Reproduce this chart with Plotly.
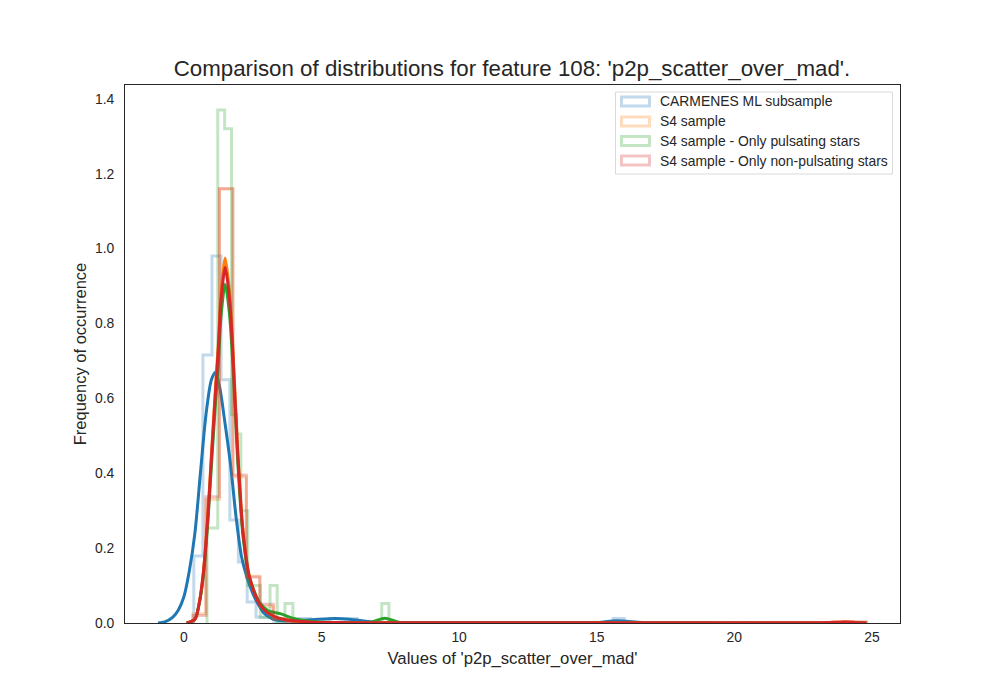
import plotly.graph_objects as go

names = ["CARMENES ML subsample", "S4 sample", "S4 sample - Only pulsating stars", "S4 sample - Only non-pulsating stars"]
colors = ["#1f77b4", "#ff7f0e", "#2ca02c", "#d62728"]
hist_rgba = ["rgba(31,119,180,0.28)", "rgba(255,127,14,0.28)", "rgba(44,160,44,0.28)", "rgba(214,39,40,0.28)"]

# histogram bin edges and heights
blue_edges = [0.36, 0.69, 1.02, 1.35, 1.67, 1.98, 2.3, 2.62, 2.95, 3.27, 4.2, 4.6, 5.3, 6.3, 15.6, 16.0]
blue_heights = [0.179, 0.716, 0.98, 0.65, 0.275, 0.163, 0.056, 0.016, 0.016, 0.0, 0.012, 0.0, 0.012, 0.0, 0.012]
orange_edges = [0.33, 0.8, 1.29, 1.78, 2.27, 2.76, 3.25, 3.74, 24.0, 24.8]
orange_heights = [0.025, 0.33, 1.16, 0.39, 0.125, 0.045, 0.012, 0.0, 0.003]
green_edges = [0.84, 1.23, 1.48, 1.73, 1.92, 2.07, 2.32, 2.78, 3.13, 3.39, 3.67, 3.96, 7.19, 7.45]
green_heights = [0.254, 1.37, 1.32, 0.556, 0.505, 0.3, 0.1, 0.015, 0.1, 0.0, 0.052, 0.0, 0.052]
red_edges = [0.33, 0.8, 1.29, 1.78, 2.27, 2.76, 3.25, 3.74, 24.0, 24.8]
red_heights = [0.02, 0.337, 1.16, 0.395, 0.123, 0.05, 0.01, 0.0, 0.003]

# KDE curves
blue_kde_x = [-0.94, -0.7, -0.4, -0.2, 0.0, 0.2, 0.4, 0.6, 0.8, 1.0, 1.15, 1.3, 1.5, 1.7, 1.9, 2.1, 2.3, 2.5, 2.7, 2.9, 3.2, 3.6, 4.5, 5.5, 6.0, 7.0, 8.0, 15.0, 15.7, 16.5, 17.0]
blue_kde_y = [0.0, 0.003, 0.016, 0.035, 0.07, 0.14, 0.24, 0.40, 0.555, 0.65, 0.67, 0.63, 0.53, 0.42, 0.28, 0.175, 0.12, 0.08, 0.05, 0.027, 0.012, 0.006, 0.008, 0.012, 0.01, 0.002, 0.001, 0.001, 0.006, 0.002, 0.0]
orange_kde_x = [0.1, 0.4, 0.55, 0.7, 0.87, 1.0, 1.15, 1.25, 1.35, 1.5, 1.65, 1.78, 1.95, 2.15, 2.38, 2.75, 3.05, 3.6, 4.5, 6.0, 10.0, 20.0, 23.2, 24.0, 24.8]
orange_kde_y = [0.0, 0.01, 0.05, 0.13, 0.29, 0.45, 0.63, 0.745, 0.88, 0.975, 0.89, 0.735, 0.47, 0.245, 0.125, 0.052, 0.027, 0.01, 0.003, 0.001, 0.001, 0.001, 0.001, 0.003, 0.0]
green_kde_x = [0.1, 0.4, 0.55, 0.7, 0.87, 1.0, 1.15, 1.25, 1.35, 1.5, 1.65, 1.78, 1.95, 2.15, 2.38, 2.75, 3.05, 3.5, 4.0, 4.6, 6.0, 6.8, 7.3, 7.8, 8.5, 12.0, 24.8]
green_kde_y = [0.0, 0.01, 0.05, 0.12, 0.27, 0.42, 0.59, 0.69, 0.82, 0.905, 0.83, 0.69, 0.44, 0.23, 0.12, 0.055, 0.033, 0.025, 0.012, 0.004, 0.001, 0.002, 0.013, 0.002, 0.0005, 0.0005, 0.0]
red_kde_x = [0.1, 0.4, 0.55, 0.7, 0.87, 1.0, 1.15, 1.25, 1.35, 1.5, 1.65, 1.78, 1.95, 2.15, 2.38, 2.75, 3.05, 3.6, 4.5, 6.0, 10.0, 20.0, 23.2, 24.0, 24.8]
red_kde_y = [0.0, 0.01, 0.05, 0.13, 0.283, 0.44, 0.62, 0.73, 0.86, 0.95, 0.87, 0.72, 0.46, 0.24, 0.123, 0.05, 0.027, 0.01, 0.003, 0.001, 0.001, 0.001, 0.001, 0.003, 0.0]

x_ticks = [0, 5, 10, 15, 20, 25]
y_ticks = [0.0, 0.2, 0.4, 0.6, 0.8, 1.0, 1.2, 1.4]
y_labels = ["0.0", "0.2", "0.4", "0.6", "0.8", "1.0", "1.2", "1.4"]

title = "Comparison of distributions for feature 108: 'p2p_scatter_over_mad'."
x_title = "Values of 'p2p_scatter_over_mad'"
y_title = "Frequency of occurrence"

hists = [(blue_edges, blue_heights), (orange_edges, orange_heights), (green_edges, green_heights), (red_edges, red_heights)]
kdes = [(blue_kde_x, blue_kde_y), (orange_kde_x, orange_kde_y), (green_kde_x, green_kde_y), (red_kde_x, red_kde_y)]

W, H = 1000, 700
OFF = 8  # the page body's default margin
L, R, T, B = 125 - OFF, 100 + OFF, 85 - OFF, 77 + OFF
PW, PH = W - L - R, H - T - B
FONT = "Liberation Sans, Arial, sans-serif"
INK = "#262626"

fig = go.Figure()
for i, name in enumerate(names):
    edges, heights = hists[i]
    fig.add_trace(go.Scatter(
        x=[edges[0]] + edges, y=[0] + heights + [0],
        mode="lines", line=dict(color=hist_rgba[i], width=3, shape="hv"),
        name=name, showlegend=False, hoverinfo="skip"))
    kx, ky = kdes[i]
    fig.add_trace(go.Scatter(
        x=kx, y=ky, mode="lines",
        line=dict(color=colors[i], width=3, shape="spline", smoothing=0.8),
        name=name + " KDE", showlegend=False))

def px(v):
    return (v - OFF - L) / PW

def py(v):
    return 1 - (v - OFF - T) / PH

shapes = [dict(type="rect", xref="paper", yref="paper", x0=px(615.5), x1=px(892.5), y0=py(174), y1=py(92),
               line=dict(color="#d9d9d9", width=1), fillcolor="rgba(255,255,255,0.8)", layer="above")]
annotations = []
rows = [101.5, 121.5, 141, 160.5]
for i, name in enumerate(names):
    shapes.append(dict(type="rect", xref="paper", yref="paper", x0=px(621.5), x1=px(649.5),
                       y0=py(rows[i] + 4.5), y1=py(rows[i] - 4.5),
                       line=dict(color=hist_rgba[i], width=3), fillcolor="rgba(0,0,0,0)", layer="above"))
    annotations.append(dict(text=name, xref="paper", yref="paper", x=px(660), y=py(rows[i]),
                            xanchor="left", yanchor="middle", showarrow=False, xshift=-2,
                            font=dict(family=FONT, size=13.9, color=INK)))

fig.update_layout(
    width=W, height=H, autosize=False,
    margin=dict(l=L, r=R, t=T, b=B, pad=0),
    paper_bgcolor="white", plot_bgcolor="white",
    font=dict(family=FONT, color=INK),
    title=dict(text=title, x=(512 - OFF) / W, xanchor="center", y=1 - (68 - OFF) / H, yanchor="middle",
               font=dict(family=FONT, size=22.3, color=INK)),
    shapes=shapes, annotations=annotations, showlegend=False,
    xaxis=dict(range=[-2.14, 26.02], tickmode="array", tickvals=x_ticks, ticks="", showgrid=False, zeroline=False,
               showline=True, linecolor="#262626", linewidth=1, mirror=True, ticklabelstandoff=1,
               tickfont=dict(size=13.9, color=INK, family=FONT),
               title=dict(text=x_title, standoff=8, font=dict(size=16.7, family=FONT, color=INK))),
    yaxis=dict(range=[0, 1.437], tickmode="array", tickvals=y_ticks, ticktext=y_labels, ticks="", showgrid=False, zeroline=False,
               showline=True, linecolor="#262626", linewidth=1, mirror=True, ticklabelstandoff=7,
               tickfont=dict(size=13.9, color=INK, family=FONT),
               title=dict(text=y_title, standoff=4, font=dict(size=16.5, family=FONT, color=INK))),
)
fig.write_html("out.html")
